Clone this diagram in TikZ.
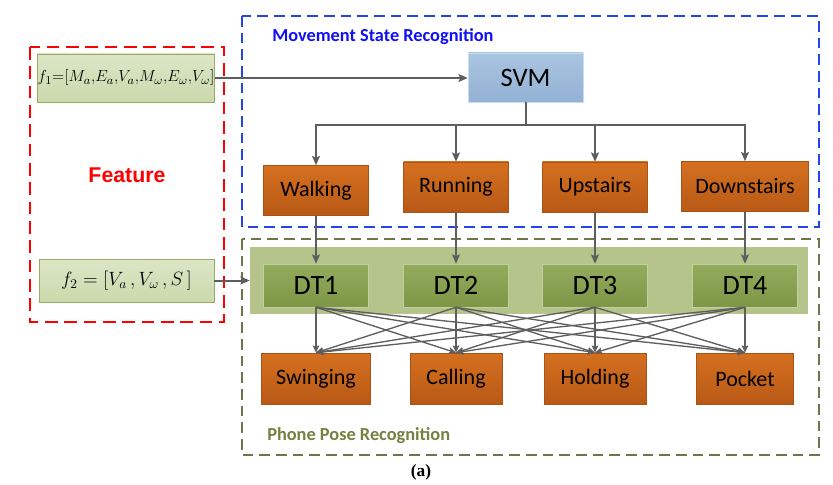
\documentclass[tikz,border=0pt]{standalone}
\usepackage{amsmath}
\usepackage{fontspec}
\setmainfont{Carlito}
\newfontfamily\featfont{Liberation Sans}
\newfontfamily\capfont{Liberation Serif}
\usepackage{tikz}
\usetikzlibrary{arrows.meta}

\definecolor{orangetop}{HTML}{D4701F}
\definecolor{orangebot}{HTML}{B95916}
\definecolor{orangeline}{HTML}{A85318}
\definecolor{svmtop}{HTML}{AAC5E0}
\definecolor{svmbot}{HTML}{93B1D5}
\definecolor{dttop}{HTML}{93AB5D}
\definecolor{dtbot}{HTML}{7E9746}
\definecolor{dtedge}{HTML}{C3D09E}
\definecolor{bandgreen}{HTML}{B4C48B}
\definecolor{feattop}{HTML}{DCE6C6}
\definecolor{featbot}{HTML}{CBD9AC}
\definecolor{featedge}{HTML}{98AC62}
\definecolor{linegray}{HTML}{5E5E5E}
\definecolor{msblue}{HTML}{2444E6}
\definecolor{mstext}{HTML}{1010F5}
\definecolor{ppolive}{HTML}{6E7548}
\definecolor{pptext}{HTML}{76803F}

\begin{document}
\begin{tikzpicture}[
		x=0.75pt, y=-0.75pt,
		every node/.style={rectangle, inner sep=0pt},
		actbox/.style={draw=orangeline, top color=orangetop, bottom color=orangebot,
			minimum height=37.5pt, font=\fontsize{16.5}{18}\selectfont},
		posebox/.style={draw=orangeline, top color=orangetop, bottom color=orangebot,
			minimum height=38.25pt, font=\fontsize{16.5}{18}\selectfont},
		dtbox/.style={draw=dtedge, top color=dttop, bottom color=dtbot,
			minimum width=78.75pt, minimum height=32.25pt, font=\fontsize{21}{24}\selectfont},
		featbox/.style={draw=featedge, top color=feattop, bottom color=featbot},
		conn/.style={draw=linegray, line width=1.5pt, -{Stealth[length=7pt, width=6pt, inset=1.5pt]}},
		mesh/.style={draw=linegray, line width=1pt, -{Stealth[length=5.5pt, width=5pt, inset=1.2pt]}}
	]
  \useasboundingbox (0,0) rectangle (833,485);
  % groups
  \draw[red, line width=1.5pt, dash pattern=on 9.5pt off 5pt] (30,47) rectangle (224,322);
  \draw[msblue, line width=1.1pt, dash pattern=on 8pt off 4.5pt] (242,16) rectangle (819,227);
  \draw[ppolive, line width=1.1pt, dash pattern=on 8pt off 4.5pt] (242,239) rectangle (819,455);
  \node (ms_label) [anchor=west, text=mstext, font=\bfseries\fontsize{13.75}{16}\selectfont] at (272,37) {Movement State Recognition};
  \node (pp_label) [anchor=west, text=pptext, font=\bfseries\fontsize{13.75}{16}\selectfont] at (267,436) {Phone Pose Recognition};
  \node (feat) [text=red, font=\featfont\bfseries\fontsize{16}{18}\selectfont] at (127,175) {Feature};

  % features
  \node (f_1) [featbox, minimum width=132pt, minimum height=36pt, font=\fontsize{12.3}{14}\selectfont] at (126,78)
    {$f_1{=}[M_a{,}E_a{,}V_a{,}M_\omega{,}E_\omega{,}V_\omega]$};
  \node (f_2) [featbox, minimum width=131.25pt, minimum height=32.25pt, font=\fontsize{14}{16}\selectfont] at (126.5,280.5)
    {$f_2 = [V_a\,, V_\omega\,, S\,]$};

  % movement state
  \node (svm) [draw=svmtop!60!white, top color=svmtop, bottom color=svmbot, minimum width=86.25pt,
    minimum height=36.75pt, font=\fontsize{20}{24}\selectfont] at (525.5,77.5) {SVM};
  \node (walk) [actbox, minimum width=78.75pt] at (316,190.5) {Walking};
  \node (run) [actbox, minimum width=78.75pt] at (456,187) {Running};
  \node (up) [actbox, minimum width=78.75pt] at (595,187) {Upstairs};
  \node (down) [actbox, minimum width=95.25pt] at (745,186.5) {Downstairs};
  \coordinate (bus) at (525.5,125);

  % phone pose
  \node (band) [fill=bandgreen, minimum width=418.5pt, minimum height=50.25pt] at (529,280.5) {};
  \node (dt_1) [dtbox] at (316,285.5) {DT1};
  \node (dt_2) [dtbox] at (456,285.5) {DT2};
  \node (dt_3) [dtbox] at (595,285.5) {DT3};
  \node (dt_4) [dtbox] at (745,285.5) {DT4};
  \node (swing) [posebox, minimum width=81.75pt] at (316,378.5) {Swinging};
  \node (call) [posebox, minimum width=69pt] at (456,378.5) {Calling};
  \node (hold) [posebox, minimum width=76.5pt] at (595,378.5) {Holding};
  \node (pock) [posebox, minimum width=72.75pt] at (745,378.5) {Pocket};

  \node (cap) [font=\capfont\bfseries\fontsize{13}{15}\selectfont] at (421,472) {(a)};

  % connectors
  \draw[conn] (f_1.east) -- (svm.west |- f_1.east);
  \draw[conn, -] (svm.south) -- (bus);
  \draw[conn] (bus) -| (walk.north);
  \draw[conn] (bus) -| (run.north);
  \draw[conn] (bus) -| (up.north);
  \draw[conn] (bus) -| (down.north);
  \draw[conn] (walk.south) -- (dt_1.north);
  \draw[conn] (run.south) -- (dt_2.north);
  \draw[conn] (up.south) -- (dt_3.north);
  \draw[conn] (down.south) -- (dt_4.north);
  \draw[conn] (f_2.east) -- (band.west |- f_2.east);
  \path (dt_1.south) edge[mesh] (swing.north) edge[mesh] (call.north) edge[mesh] (hold.north) edge[mesh] (pock.north);
  \path (dt_2.south) edge[mesh] (swing.north) edge[mesh] (call.north) edge[mesh] (hold.north) edge[mesh] (pock.north);
  \path (dt_3.south) edge[mesh] (swing.north) edge[mesh] (call.north) edge[mesh] (hold.north) edge[mesh] (pock.north);
  \path (dt_4.south) edge[mesh] (swing.north) edge[mesh] (call.north) edge[mesh] (hold.north) edge[mesh] (pock.north);
\end{tikzpicture}
\end{document}
